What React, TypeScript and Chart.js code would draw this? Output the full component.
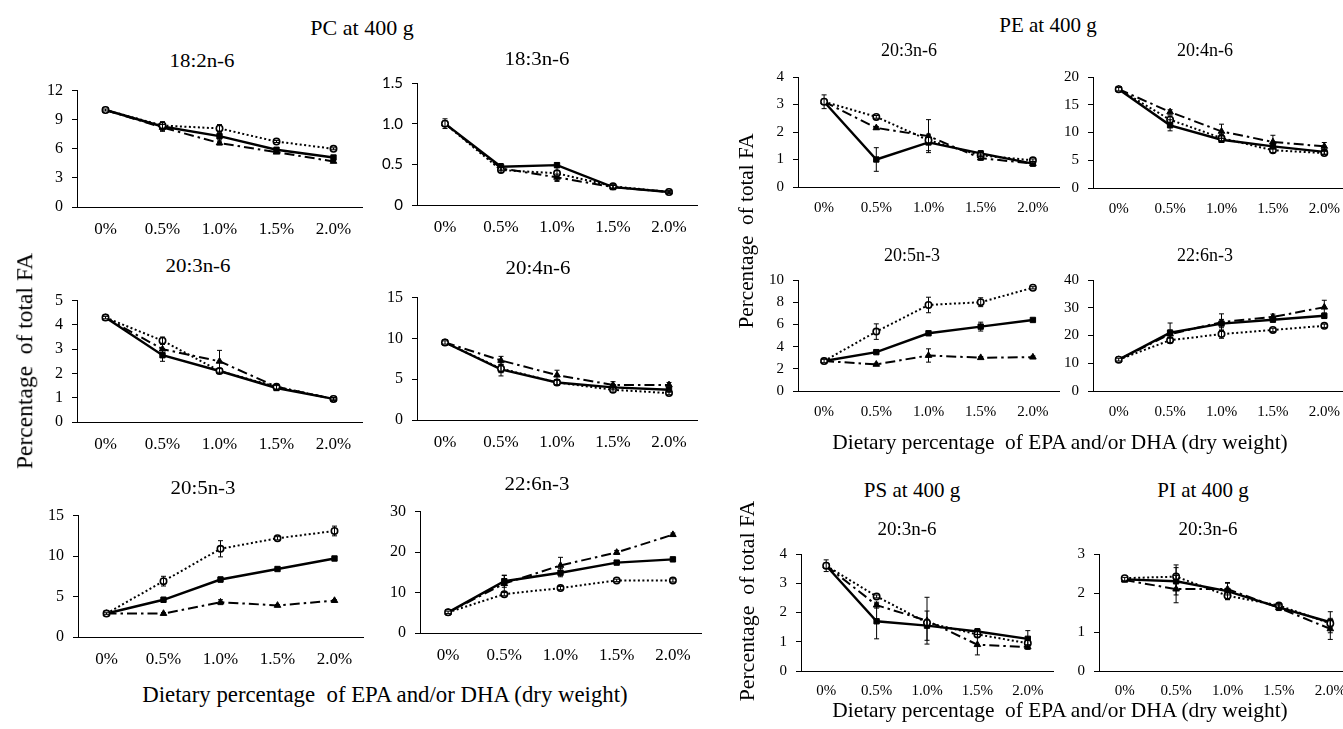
import React, { useEffect, useRef } from "react";
import { Chart, registerables } from "chart.js";
Chart.register(...registerables);

const categories = ["0%", "0.5%", "1.0%", "1.5%", "2.0%"];

// PC at 400 g — 18:2n-6
const pc182EpaDha = [10.0, 8.3, 7.3, 5.9, 5.1];
const pc182Epa = [10.0, 8.4, 8.1, 6.75, 6.0];
const pc182Dha = [10.0, 8.2, 6.6, 5.65, 4.7];
const pc182EpaDhaErr = [0.1, 0.5, 0.3, 0.2, 0.2];
const pc182EpaErr = [0, 0.3, 0.4, 0.1, 0.1];
const pc182DhaErr = [0, 0.3, 0.2, 0.1, 0.1];
const pc182Ticks = [0, 12, 3];

// PC — 18:3n-6
const pc183EpaDha = [1.0, 0.47, 0.49, 0.22, 0.16];
const pc183Epa = [1.0, 0.43, 0.39, 0.23, 0.16];
const pc183Dha = [1.0, 0.45, 0.34, 0.22, 0.16];
const pc183EpaDhaErr = [0.06, 0.04, 0.03, 0.02, 0.02];
const pc183EpaErr = [0, 0.03, 0.1, 0.02, 0.01];
const pc183DhaErr = [0, 0.03, 0.04, 0.02, 0.01];
const pc183Ticks = [0, 1.5, 0.5];

// PC — 20:3n-6
const pc203EpaDha = [4.3, 2.75, 2.1, 1.4, 0.95];
const pc203Epa = [4.3, 3.35, 2.1, 1.45, 0.95];
const pc203Dha = [4.3, 3.0, 2.5, 1.45, 0.95];
const pc203EpaDhaErr = [0.05, 0.25, 0.1, 0.1, 0.05];
const pc203EpaErr = [0, 0.15, 0.1, 0.1, 0.05];
const pc203DhaErr = [0, 0.2, 0.45, 0.1, 0.05];
const pc203Ticks = [0, 5, 1];

// PC — 20:4n-6
const pc204EpaDha = [9.5, 6.2, 4.6, 4.0, 3.7];
const pc204Epa = [9.5, 6.3, 4.6, 3.7, 3.3];
const pc204Dha = [9.5, 7.3, 5.5, 4.3, 4.3];
const pc204EpaDhaErr = [0.2, 0.8, 0.3, 0.3, 0.3];
const pc204EpaErr = [0, 0.5, 0.3, 0.3, 0.2];
const pc204DhaErr = [0, 0.5, 0.6, 0.4, 0.3];
const pc204Ticks = [0, 15, 5];

// PC — 20:5n-3
const pc205EpaDha = [2.9, 4.6, 7.1, 8.4, 9.7];
const pc205Epa = [2.9, 6.9, 10.9, 12.2, 13.1];
const pc205Dha = [2.9, 2.9, 4.3, 3.9, 4.5];
const pc205EpaDhaErr = [0.1, 0.3, 0.3, 0.2, 0.2];
const pc205EpaErr = [0, 0.6, 1.0, 0.2, 0.6];
const pc205DhaErr = [0, 0.1, 0.3, 0.1, 0.1];
const pc205Ticks = [0, 15, 5];

// PC — 22:6n-3
const pc226EpaDha = [5.1, 12.8, 14.9, 17.4, 18.2];
const pc226Epa = [5.1, 9.6, 11.1, 13.0, 13.0];
const pc226Dha = [5.1, 12.2, 16.7, 19.9, 24.3];
const pc226EpaDhaErr = [0.3, 1.5, 1.0, 0.5, 0.5];
const pc226EpaErr = [0, 0.4, 0.4, 0.3, 0.4];
const pc226DhaErr = [0, 2.0, 2.0, 0.5, 0.4];
const pc226Ticks = [0, 30, 10];

// PE at 400 g — 20:3n-6
const pe203EpaDha = [3.1, 1.0, 1.62, 1.22, 0.85];
const pe203Epa = [3.1, 2.55, 1.7, 1.15, 0.97];
const pe203Dha = [3.1, 2.15, 1.85, 1.05, 0.85];
const pe203EpaDhaErr = [0.25, 0.43, 0.3, 0.1, 0.08];
const pe203EpaErr = [0, 0.05, 0.1, 0.05, 0.05];
const pe203DhaErr = [0, 0.05, 0.6, 0.08, 0.08];
const pe203Ticks = [0, 4, 1];

// PE — 20:4n-6
const pe204EpaDha = [17.8, 11.3, 8.7, 7.5, 6.5];
const pe204Epa = [17.8, 12.3, 9.0, 6.8, 6.3];
const pe204Dha = [17.8, 13.7, 10.2, 8.3, 7.5];
const pe204EpaDhaErr = [0.3, 1.0, 0.5, 0.5, 0.4];
const pe204EpaErr = [0, 0.7, 0.6, 0.4, 0.3];
const pe204DhaErr = [0, 0.4, 1.3, 1.2, 0.7];
const pe204Ticks = [0, 20, 5];

// PE — 20:5n-3
const pe205EpaDha = [2.7, 3.5, 5.2, 5.8, 6.4];
const pe205Epa = [2.7, 5.35, 7.75, 8.0, 9.3];
const pe205Dha = [2.7, 2.4, 3.2, 3.0, 3.05];
const pe205EpaDhaErr = [0.15, 0.15, 0.15, 0.4, 0.1];
const pe205EpaErr = [0, 0.7, 0.7, 0.4, 0.1];
const pe205DhaErr = [0, 0.1, 0.6, 0.1, 0.1];
const pe205Ticks = [0, 10, 2];

// PE — 22:6n-3
const pe226EpaDha = [11.3, 21.0, 24.3, 25.7, 27.1];
const pe226Epa = [11.3, 18.3, 20.5, 22.0, 23.5];
const pe226Dha = [11.3, 20.5, 24.8, 26.7, 30.2];
const pe226EpaDhaErr = [0.5, 3.5, 1.5, 0.8, 1.0];
const pe226EpaErr = [0, 1.0, 1.5, 0.6, 0.6];
const pe226DhaErr = [0, 1.5, 3.0, 1.0, 2.5];
const pe226Ticks = [0, 40, 10];

// PS at 400 g — 20:3n-6
const ps203EpaDha = [3.6, 1.7, 1.55, 1.35, 1.1];
const ps203Epa = [3.6, 2.55, 1.65, 1.25, 0.95];
const ps203Dha = [3.6, 2.25, 1.72, 0.9, 0.82];
const ps203EpaDhaErr = [0.2, 0.6, 0.5, 0.1, 0.28];
const ps203EpaErr = [0, 0.05, 0.1, 0.1, 0.1];
const ps203DhaErr = [0, 0.1, 0.8, 0.35, 0.08];
const ps203Ticks = [0, 4, 1];

// PI at 400 g — 20:3n-6
const pi203EpaDha = [2.35, 2.3, 2.05, 1.63, 1.25];
const pi203Epa = [2.38, 2.42, 1.93, 1.68, 1.22];
const pi203Dha = [2.33, 2.1, 2.1, 1.62, 1.08];
const pi203EpaDhaErr = [0.05, 0.35, 0.22, 0.08, 0.27];
const pi203EpaErr = [0, 0.3, 0.1, 0.05, 0.1];
const pi203DhaErr = [0, 0.35, 0.15, 0.05, 0.27];
const pi203Ticks = [0, 3, 1];

const SERIF = "'Liberation Serif', 'Times New Roman', serif";

type PanelCfg = {
  box: number[]; // plot area left, top, right, bottom
  epaDha: number[]; epa: number[]; dha: number[];
  epaDhaErr: number[]; epaErr: number[]; dhaErr: number[];
  ticks: number[];
  xSize: number; ySize: number; xPad: number; yFont?: string; decimals?: boolean;
};

const panels: PanelCfg[] = [
  { box: [77, 86, 362, 207], epaDha: pc182EpaDha, epa: pc182Epa, dha: pc182Dha, epaDhaErr: pc182EpaDhaErr, epaErr: pc182EpaErr, dhaErr: pc182DhaErr, ticks: pc182Ticks, xSize: 17, ySize: 16, xPad: 12 },
  { box: [417, 79, 697, 205], epaDha: pc183EpaDha, epa: pc183Epa, dha: pc183Dha, epaDhaErr: pc183EpaDhaErr, epaErr: pc183EpaErr, dhaErr: pc183DhaErr, ticks: pc183Ticks, xSize: 17, ySize: 15, xPad: 12, yFont: "Lato, 'Open Sans', sans-serif", decimals: true },
  { box: [77, 296, 362, 422], epaDha: pc203EpaDha, epa: pc203Epa, dha: pc203Dha, epaDhaErr: pc203EpaDhaErr, epaErr: pc203EpaErr, dhaErr: pc203DhaErr, ticks: pc203Ticks, xSize: 17, ySize: 16, xPad: 12 },
  { box: [417, 293, 697, 420], epaDha: pc204EpaDha, epa: pc204Epa, dha: pc204Dha, epaDhaErr: pc204EpaDhaErr, epaErr: pc204EpaErr, dhaErr: pc204DhaErr, ticks: pc204Ticks, xSize: 17, ySize: 16, xPad: 12 },
  { box: [78, 511, 363, 637], epaDha: pc205EpaDha, epa: pc205Epa, dha: pc205Dha, epaDhaErr: pc205EpaDhaErr, epaErr: pc205EpaErr, dhaErr: pc205DhaErr, ticks: pc205Ticks, xSize: 17, ySize: 16, xPad: 12 },
  { box: [420, 507, 701, 633], epaDha: pc226EpaDha, epa: pc226Epa, dha: pc226Dha, epaDhaErr: pc226EpaDhaErr, epaErr: pc226EpaErr, dhaErr: pc226DhaErr, ticks: pc226Ticks, xSize: 17, ySize: 16, xPad: 12 },
  { box: [798, 73, 1059, 187], epaDha: pe203EpaDha, epa: pe203Epa, dha: pe203Dha, epaDhaErr: pe203EpaDhaErr, epaErr: pe203EpaErr, dhaErr: pe203DhaErr, ticks: pe203Ticks, xSize: 15, ySize: 15, xPad: 12 },
  { box: [1093, 73, 1350, 188], epaDha: pe204EpaDha, epa: pe204Epa, dha: pe204Dha, epaDhaErr: pe204EpaDhaErr, epaErr: pe204EpaErr, dhaErr: pe204DhaErr, ticks: pe204Ticks, xSize: 15, ySize: 15, xPad: 12 },
  { box: [798, 276, 1059, 391], epaDha: pe205EpaDha, epa: pe205Epa, dha: pe205Dha, epaDhaErr: pe205EpaDhaErr, epaErr: pe205EpaErr, dhaErr: pe205DhaErr, ticks: pe205Ticks, xSize: 15, ySize: 15, xPad: 12 },
  { box: [1093, 276, 1350, 391], epaDha: pe226EpaDha, epa: pe226Epa, dha: pe226Dha, epaDhaErr: pe226EpaDhaErr, epaErr: pe226EpaErr, dhaErr: pe226DhaErr, ticks: pe226Ticks, xSize: 15, ySize: 15, xPad: 12 },
  { box: [801, 550, 1053, 671], epaDha: ps203EpaDha, epa: ps203Epa, dha: ps203Dha, epaDhaErr: ps203EpaDhaErr, epaErr: ps203EpaErr, dhaErr: ps203DhaErr, ticks: ps203Ticks, xSize: 15, ySize: 15, xPad: 11 },
  { box: [1099, 550, 1356, 671], epaDha: pi203EpaDha, epa: pi203Epa, dha: pi203Dha, epaDhaErr: pi203EpaDhaErr, epaErr: pi203EpaErr, dhaErr: pi203DhaErr, ticks: pi203Ticks, xSize: 15, ySize: 15, xPad: 11 },
];

const errorBarPlugin = {
  id: "errbars",
  afterDatasetsDraw(chart: any) {
    const ctx = chart.ctx;
    const ys = chart.scales.y;
    chart.data.datasets.forEach((ds: any, i: number) => {
      const meta = chart.getDatasetMeta(i);
      const errs: number[] = ds.errs;
      if (!errs) return;
      meta.data.forEach((pt: any, j: number) => {
        const e = errs[j];
        if (!e) return;
        const v = ds.data[j];
        const x = pt.x;
        const y1 = ys.getPixelForValue(v + e);
        const y2 = ys.getPixelForValue(v - e);
        ctx.save();
        ctx.strokeStyle = "#000";
        ctx.lineWidth = 1;
        ctx.setLineDash([]);
        ctx.beginPath();
        ctx.moveTo(x, y1); ctx.lineTo(x, y2);
        ctx.moveTo(x - 2.5, y1); ctx.lineTo(x + 2.5, y1);
        ctx.moveTo(x - 2.5, y2); ctx.lineTo(x + 2.5, y2);
        ctx.stroke();
        ctx.restore();
      });
    });
  },
};

const ML = 70, MT = 14, MR = 10, MB = 40;

function Panel({ p }: { p: PanelCfg }) {
  const ref = useRef<HTMLCanvasElement>(null);
  const [l, t, r, b] = p.box;
  const w = r - l + ML + MR;
  const h = b - t + MT + MB;
  useEffect(() => {
    const chart = new Chart(ref.current!, {
      type: "line",
      data: {
        labels: categories,
        datasets: [
          { label: "EPA", data: p.epa, errs: p.epaErr, borderColor: "#000", borderWidth: 2, borderDash: [2, 2.5], pointStyle: "circle", pointRadius: 3.2, pointBackgroundColor: "#fff", pointBorderColor: "#000", pointBorderWidth: 1.6, tension: 0 } as any,
          { label: "DHA", data: p.dha, errs: p.dhaErr, borderColor: "#000", borderWidth: 2, borderDash: [10, 4, 2.5, 4], pointStyle: "triangle", pointRadius: 3.8, pointBackgroundColor: "#000", pointBorderColor: "#000", pointBorderWidth: 1, tension: 0 } as any,
          { label: "EPA+DHA", data: p.epaDha, errs: p.epaDhaErr, borderColor: "#000", borderWidth: 2.4, pointStyle: "rect", pointRadius: 3.8, pointBackgroundColor: "#000", pointBorderColor: "#000", pointBorderWidth: 1, tension: 0 } as any,
        ],
      },
      options: {
        responsive: false,
        animation: false,
        devicePixelRatio: 1,
        layout: { padding: { left: 0, top: MT, right: MR, bottom: 0 } },
        plugins: { legend: { display: false }, tooltip: { enabled: false }, title: { display: false } },
        scales: {
          x: {
            type: "category",
            offset: true,
            grid: { display: false, drawTicks: false },
            border: { display: true, color: "#000", width: 1 },
            ticks: { color: "#000", font: { family: SERIF, size: p.xSize }, padding: p.xPad, maxRotation: 0, autoSkip: false },
            afterFit: (s: any) => { s.height = MB; },
          },
          y: {
            min: p.ticks[0],
            max: p.ticks[1],
            grid: { display: true, drawOnChartArea: false, drawTicks: true, tickLength: 5, color: "#000" },
            border: { display: true, color: "#000", width: 1 },
            ticks: {
              stepSize: p.ticks[2],
              color: "#000",
              font: { family: p.yFont || SERIF, size: p.ySize },
              padding: 9,
              callback: (v: any) => (p.decimals ? (Number(v) === 0 ? "0" : Number(v).toFixed(1)) : String(v)),
            },
            afterFit: (s: any) => { s.width = ML; },
          },
        },
      },
      plugins: [errorBarPlugin],
    } as any);
    return () => chart.destroy();
  }, []);
  return (
    <canvas
      ref={ref}
      width={w}
      height={h}
      style={{ position: "absolute", left: l - ML, top: t - MT, width: w, height: h }}
    />
  );
}

function Label({ text, x, y, size, rotate, sx = 1 }: { text: string; x: number; y: number; size: number; rotate?: boolean; sx?: number }) {
  return (
    <div
      style={{
        position: "absolute",
        left: x,
        top: y,
        transform: `translate(-50%, -50%)${rotate ? " rotate(-90deg)" : ""} scaleX(${sx})`,
        fontFamily: SERIF,
        fontSize: size,
        lineHeight: 1,
        whiteSpace: "pre",
        color: "#000",
      }}
    >
      {text}
    </div>
  );
}

const xTitle = "Dietary percentage  of EPA and/or DHA (dry weight)";
const yTitle = "Percentage  of total FA";

export default function App() {
  return (
    <div style={{ position: "absolute", left: 0, top: 0, width: 1343, height: 729, overflow: "hidden", background: "#fff" }}>
      {panels.map((p, i) => <Panel key={i} p={p} />)}
      <Label text="PC at 400 g" x={362} y={28} size={22} />
      <Label text="PE at 400 g" x={1048} y={25} size={21} />
      <Label text="18:2n-6" x={202} y={60} size={19} sx={1.1} />
      <Label text="18:3n-6" x={537} y={58} size={19} sx={1.1} />
      <Label text="20:3n-6" x={198} y={265} size={19} sx={1.1} />
      <Label text="20:4n-6" x={538} y={267} size={19} sx={1.1} />
      <Label text="20:5n-3" x={203} y={487} size={19} sx={1.1} />
      <Label text="22:6n-3" x={537} y={483} size={19} sx={1.1} />
      <Label text="20:3n-6" x={909} y={50} size={18} />
      <Label text="20:4n-6" x={1205} y={50} size={18} />
      <Label text="20:5n-3" x={912} y={255} size={18} />
      <Label text="22:6n-3" x={1205} y={255} size={18} />
      <Label text="PS at 400 g" x={912} y={490} size={21} />
      <Label text="20:3n-6" x={907} y={528} size={19} />
      <Label text="PI at 400 g" x={1203} y={490} size={21} />
      <Label text="20:3n-6" x={1208} y={528} size={19} />
      <Label text={yTitle} x={25} y={361} size={23.5} rotate />
      <Label text={yTitle} x={747} y={231} size={21.2} rotate />
      <Label text={yTitle} x={748} y={601} size={21.8} rotate />
      <Label text={xTitle} x={385} y={695} size={22.8} />
      <Label text={xTitle} x={1060} y={443} size={21.4} />
      <Label text={xTitle} x={1060} y={711} size={21.4} />
    </div>
  );
}
